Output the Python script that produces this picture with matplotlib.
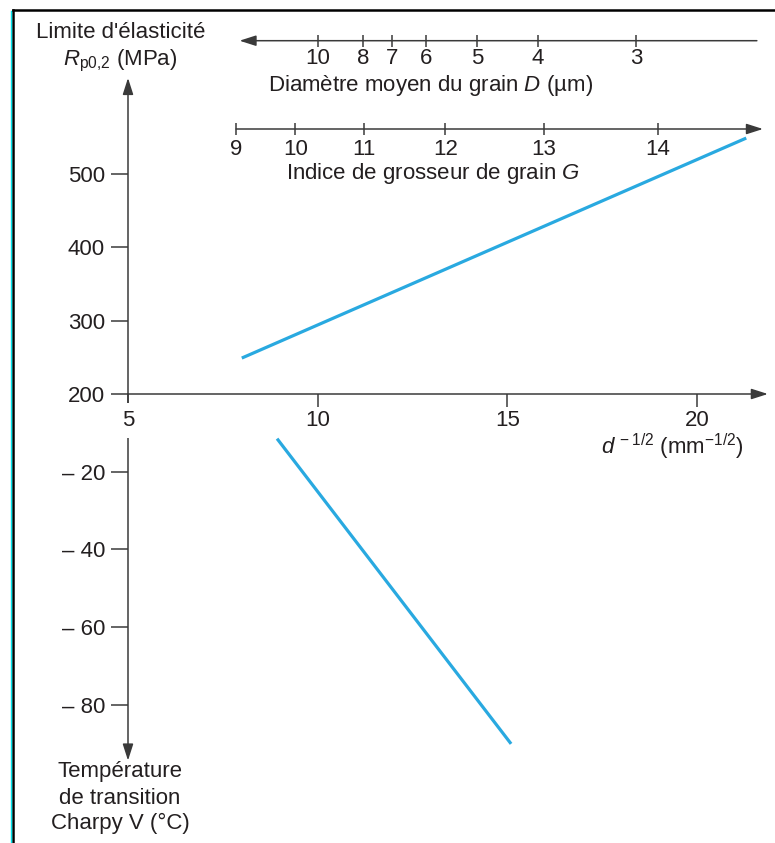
"""
Limite d'élasticité et température de transition Charpy V
en fonction de la taille de grain (loi de Hall-Petch).
"""

import matplotlib
matplotlib.use("Agg")
import matplotlib.pyplot as plt
from matplotlib.lines import Line2D

# --- Data ---
d_inv_sqrt_rp = [8.0, 21.3]          # d^-1/2 (mm^-1/2)
rp02 = [249, 549]                    # MPa
d_inv_sqrt_tk = [8.93, 15.1]
t_charpy = [-11.5, -90.1]            # °C

x_ticks = [5, 10, 15, 20]
rp_ticks = [200, 300, 400, 500]
t_ticks = [-20, -40, -60, -80]
t_tick_labels = ["– 20", "– 40", "– 60", "– 80"]

g_labels = ["9", "10", "11", "12", "13", "14"]
g_pos = [7.85, 9.41, 11.22, 13.37, 15.97, 18.97]      # on the d^-1/2 scale

d_labels = ["10", "8", "7", "6", "5", "4", "3"]
d_pos = [10.0, 11.2, 11.95, 12.85, 14.2, 15.8, 18.4]  # on the d^-1/2 scale

# --- Style ---
W, H = 775, 843
TXT = "#231f20"
AX = "#3a3a3a"
BLUE = "#29a9e0"
FS = 16
plt.rcParams["font.family"] = ["Liberation Sans", "DejaVu Sans"]
plt.rcParams["mathtext.fontset"] = "custom"
plt.rcParams["mathtext.rm"] = "Liberation Sans"
plt.rcParams["mathtext.it"] = "Liberation Sans:italic"

PX = 37.93           # px per d^-1/2 unit
X0_PX = 128          # pixel column of d^-1/2 = 5
Y0_PX = 394          # pixel row of the horizontal axis
XLIM = (5 - X0_PX / PX, 5 + (W - X0_PX) / PX)
RP_PX = 0.7333       # px per MPa
T_PX = 3.883         # px per °C


def fpos(x, y):
    """pixel (from top-left) -> figure fraction"""
    return x / W, 1 - y / H


def pts(px):
    return px * 72 / 100


def bare(ax):
    ax.set_xlim(*XLIM)
    ax.patch.set_visible(False)
    for s in ax.spines.values():
        s.set_visible(False)


arrow = dict(arrowstyle="-|>,head_length=0.5,head_width=0.16", color=AX,
             lw=1.1, shrinkA=0, shrinkB=0, mutation_scale=20)

fig = plt.figure(figsize=(W / 100, H / 100), dpi=100)
fig.patch.set_facecolor("white")

# lower part : Charpy transition temperature
ax_bot = fig.add_axes([0, 0, 1, (H - Y0_PX) / H])
bare(ax_bot)
ax_bot.set_ylim(-(H - Y0_PX) / T_PX, 0)
ax_bot.spines["left"].set_position(("data", 5))
ax_bot.set_xticks([])
ax_bot.set_yticks(t_ticks)
ax_bot.set_yticklabels(t_tick_labels)
ax_bot.tick_params(axis="y", direction="out", length=pts(17), width=1.1,
                   color=AX, pad=pts(6), labelsize=FS, labelcolor=TXT)
ax_bot.annotate("", xy=(5, -94.4), xytext=(5, 0), arrowprops=arrow,
                annotation_clip=False)
ax_bot.plot(d_inv_sqrt_tk, t_charpy, color=BLUE, lw=2.3,
            solid_capstyle="butt", clip_on=False)

# upper part : yield strength
ax_top = fig.add_axes([0, (H - Y0_PX) / H, 1, Y0_PX / H])
bare(ax_top)
ax_top.set_ylim(200, 200 + Y0_PX / RP_PX)
ax_top.spines["left"].set_position(("data", 5))
ax_top.set_xticks(x_ticks)
ax_top.set_yticks(rp_ticks)
ax_top.tick_params(axis="y", direction="out", length=pts(17), width=1.1,
                   color=AX, pad=pts(6), labelsize=FS, labelcolor=TXT)
ax_top.tick_params(axis="x", direction="out", length=pts(13), width=1.1,
                   color=AX, pad=pts(3), labelsize=FS, labelcolor=TXT)
ax_top.get_xticklabels()[0].set_bbox(dict(facecolor="white", edgecolor="none",
                                          pad=pts(7)))
ax_top.annotate("", xy=(5, 631), xytext=(5, 200), arrowprops=arrow,
                annotation_clip=False)
ax_top.annotate("", xy=(21.87, 200), xytext=(5, 200), arrowprops=arrow,
                annotation_clip=False)
ax_top.plot(d_inv_sqrt_rp, rp02, color=BLUE, lw=2.3,
            solid_capstyle="butt", clip_on=False)

# grain size index G
ax_g = fig.add_axes([0, 1 - 129 / H, 1, 0.002])
bare(ax_g)
ax_g.set_ylim(0, 1)
ax_g.set_yticks([])
ax_g.set_xticks(g_pos)
ax_g.set_xticklabels(g_labels)
ax_g.tick_params(axis="x", direction="inout", length=pts(12), width=1.1,
                 color=AX, pad=pts(4), labelsize=FS, labelcolor=TXT)
ax_g.annotate("", xy=(21.74, 0), xytext=(g_pos[0], 0), arrowprops=arrow,
              annotation_clip=False)

# mean grain diameter D
ax_d = fig.add_axes([0, 1 - 40.7 / H, 1, 0.002])
bare(ax_d)
ax_d.set_ylim(0, 1)
ax_d.set_yticks([])
ax_d.set_xticks(d_pos)
ax_d.set_xticklabels(d_labels)
ax_d.tick_params(axis="x", direction="inout", length=pts(12), width=1.1,
                 color=AX, pad=pts(1), labelsize=FS, labelcolor=TXT)
ax_d.annotate("", xy=(7.94, 0), xytext=(21.58, 0), arrowprops=arrow,
              annotation_clip=False)

# --- Texts ---
kw = dict(ha="center", va="center", fontsize=FS, color=TXT)
fig.text(*fpos(121, 33), "Limite d'élasticité", **kw)
fig.text(*fpos(120, 61), r"$R_{\mathrm{p0{,}2}}$ (MPa)", **kw)
fig.text(*fpos(431, 86), r"Diamètre moyen du grain $D$ (µm)", **kw)
fig.text(*fpos(433, 173), r"Indice de grosseur de grain $G$", **kw)
fig.text(*fpos(672, 447), r"$d^{\,-1/2}$ (mm$^{-1/2}$)", **kw)
for y, line in zip([772, 798, 823],
                   ["Température", "de transition", "Charpy V (°C)"]):
    fig.text(*fpos(120, y), line, **kw)

# page frame
fig.add_artist(Line2D([13 / W, 13 / W], [0, 1 - 10 / H], color="black",
                      lw=1.8, transform=fig.transFigure))
fig.add_artist(Line2D([11.4 / W, 11.4 / W], [0, 1 - 11 / H], color="#00e5ee",
                      lw=1.0, transform=fig.transFigure))
fig.add_artist(Line2D([12.5 / W, 1], [1 - 10 / H, 1 - 10 / H], color="black",
                      lw=1.8, transform=fig.transFigure))

fig.savefig("out.png", dpi=100, facecolor="white")
